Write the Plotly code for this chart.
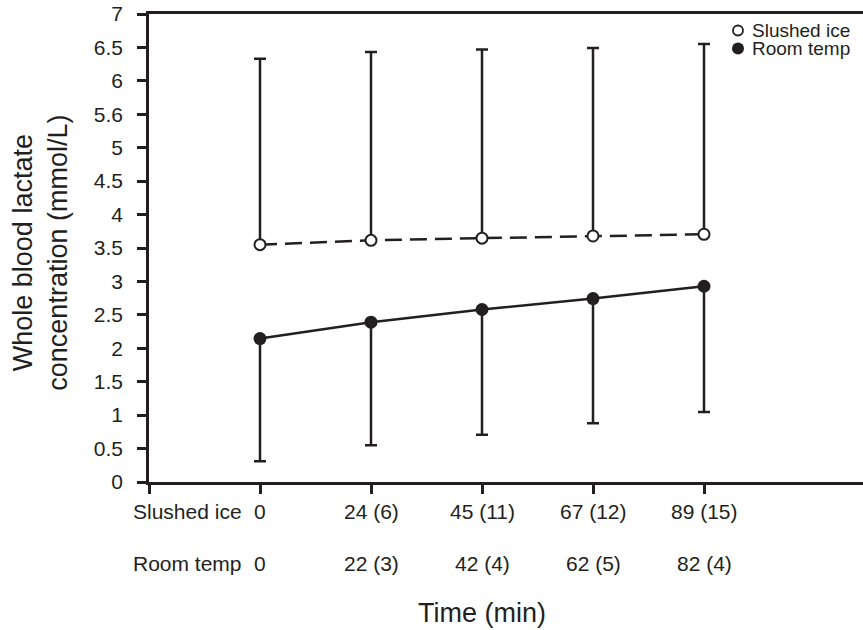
import plotly.graph_objects as go

# ---- data ----
time_idx = [1, 2, 3, 4, 5]
ice_mean = [3.55, 3.615, 3.647, 3.68, 3.705]
ice_sd = [2.78, 2.815, 2.823, 2.81, 2.845]
room_mean = [2.145, 2.39, 2.58, 2.744, 2.928]
room_sd = [1.835, 1.842, 1.872, 1.864, 1.881]
ice_time_labels = ["0", "24 (6)", "45 (11)", "67 (12)", "89 (15)"]
room_time_labels = ["0", "22 (3)", "42 (4)", "62 (5)", "82 (4)"]
y_tickvals = [0, 0.5, 1, 1.5, 2, 2.5, 3, 3.5, 4, 4.5, 5, 5.5, 6, 6.5, 7]
y_ticktext = ["0", "0.5", "1", "1.5", "2", "2.5", "3", "3.5", "4", "4.5", "5", "5.6", "6", "6.5", "7"]
series_names = ["Slushed ice", "Room temp"]

INK = "#231f20"
FONT = "Liberation Sans, Arial, sans-serif"
W, H = 863, 630
ML, MT, MB = 149, 14, 148
PW = W - ML
PH = H - MT - MB

fig = go.Figure()

fig.add_trace(go.Scatter(
    x=time_idx, y=ice_mean, mode="lines+markers", name=series_names[0],
    line=dict(color=INK, width=2.5, dash="17px,8px"),
    marker=dict(symbol="circle", size=11, color="white", line=dict(color=INK, width=2)),
    error_y=dict(type="data", symmetric=False, array=ice_sd, arrayminus=[0] * len(ice_sd),
                 color=INK, thickness=2.5, width=6),
    showlegend=False,
))
fig.add_trace(go.Scatter(
    x=time_idx, y=room_mean, mode="lines+markers", name=series_names[1],
    line=dict(color=INK, width=2.5),
    marker=dict(symbol="circle", size=13, color=INK),
    error_y=dict(type="data", symmetric=False, array=[0] * len(room_sd), arrayminus=room_sd,
                 color=INK, thickness=2.5, width=6),
    showlegend=False,
))

x_range = [0, PW / 111.0]

fig.update_layout(
    width=W, height=H,
    margin=dict(l=ML, r=0, t=MT, b=MB, pad=0),
    paper_bgcolor="white", plot_bgcolor="white",
    font=dict(family=FONT, color=INK, size=21),
    showlegend=False,
    xaxis=dict(
        range=x_range, showgrid=False, zeroline=False,
        showline=True, linecolor=INK, linewidth=2.5, mirror=True,
        tickmode="array", tickvals=[0] + time_idx, ticktext=[""] * 6,
        ticks="outside", ticklen=9, tickwidth=2.5, tickcolor=INK,
    ),
    yaxis=dict(
        range=[0, 7], showgrid=False, zeroline=False,
        showline=True, linecolor=INK, linewidth=2.5, mirror=False,
        tickmode="array", tickvals=y_tickvals, ticktext=y_ticktext,
        ticks="outside", ticklen=9, tickwidth=2.5, tickcolor=INK,
        ticklabelstandoff=10,
        tickfont=dict(size=21, family=FONT, color=INK),
    ),
)

ann = []
# time label rows
for xi, lab in zip(time_idx, ice_time_labels):
    ann.append(dict(x=xi, xref="x", y=0, yref="paper", yshift=-29, text=lab,
                    showarrow=False, xanchor="center", yanchor="middle",
                    font=dict(size=21, family=FONT, color=INK)))
for xi, lab in zip(time_idx, room_time_labels):
    ann.append(dict(x=xi, xref="x", y=0, yref="paper", yshift=-81, text=lab,
                    showarrow=False, xanchor="center", yanchor="middle",
                    font=dict(size=21, family=FONT, color=INK)))
for name, ys in zip(series_names, [-29, -81]):
    ann.append(dict(x=0, xref="paper", xshift=-18, y=0, yref="paper", yshift=ys, text=name,
                    showarrow=False, xanchor="left", yanchor="middle",
                    font=dict(size=21, family=FONT, color=INK)))
# axis titles
ann.append(dict(x=3, xref="x", y=0, yref="paper", yshift=-131, text="Time (min)",
                showarrow=False, xanchor="center", yanchor="middle",
                font=dict(size=27, family=FONT, color=INK)))
ann.append(dict(x=0, xref="paper", xshift=-108, y=0.49, yref="paper",
                text="Whole blood lactate<br>concentration (mmol/L)", textangle=-90,
                showarrow=False, xanchor="center", yanchor="middle",
                font=dict(size=27, family=FONT, color=INK)))

# legend (text + symbols)
leg_y = [(MT + PH - 30.5) / PH, (MT + PH - 48.5) / PH]
leg_sym_x = (738 - ML) / PW
leg_txt_x = (751 - ML) / PW
for name, yy in zip(series_names, leg_y):
    ann.append(dict(x=leg_txt_x, xref="paper", y=yy, yref="paper", text=name,
                    showarrow=False, xanchor="left", yanchor="middle", borderpad=0,
                    font=dict(size=19, family=FONT, color=INK)))
fig.update_layout(annotations=ann)

shapes = [
    dict(type="circle", xref="paper", yref="paper", xsizemode="pixel", ysizemode="pixel",
         xanchor=leg_sym_x, yanchor=leg_y[0], x0=-5, x1=5, y0=-5, y1=5,
         line=dict(color=INK, width=1.8), fillcolor="white"),
    dict(type="circle", xref="paper", yref="paper", xsizemode="pixel", ysizemode="pixel",
         xanchor=leg_sym_x, yanchor=leg_y[1], x0=-6, x1=6, y0=-6, y1=6,
         line=dict(color=INK, width=0), fillcolor=INK),
]
fig.update_layout(shapes=shapes)

fig.write_html("out.html")
